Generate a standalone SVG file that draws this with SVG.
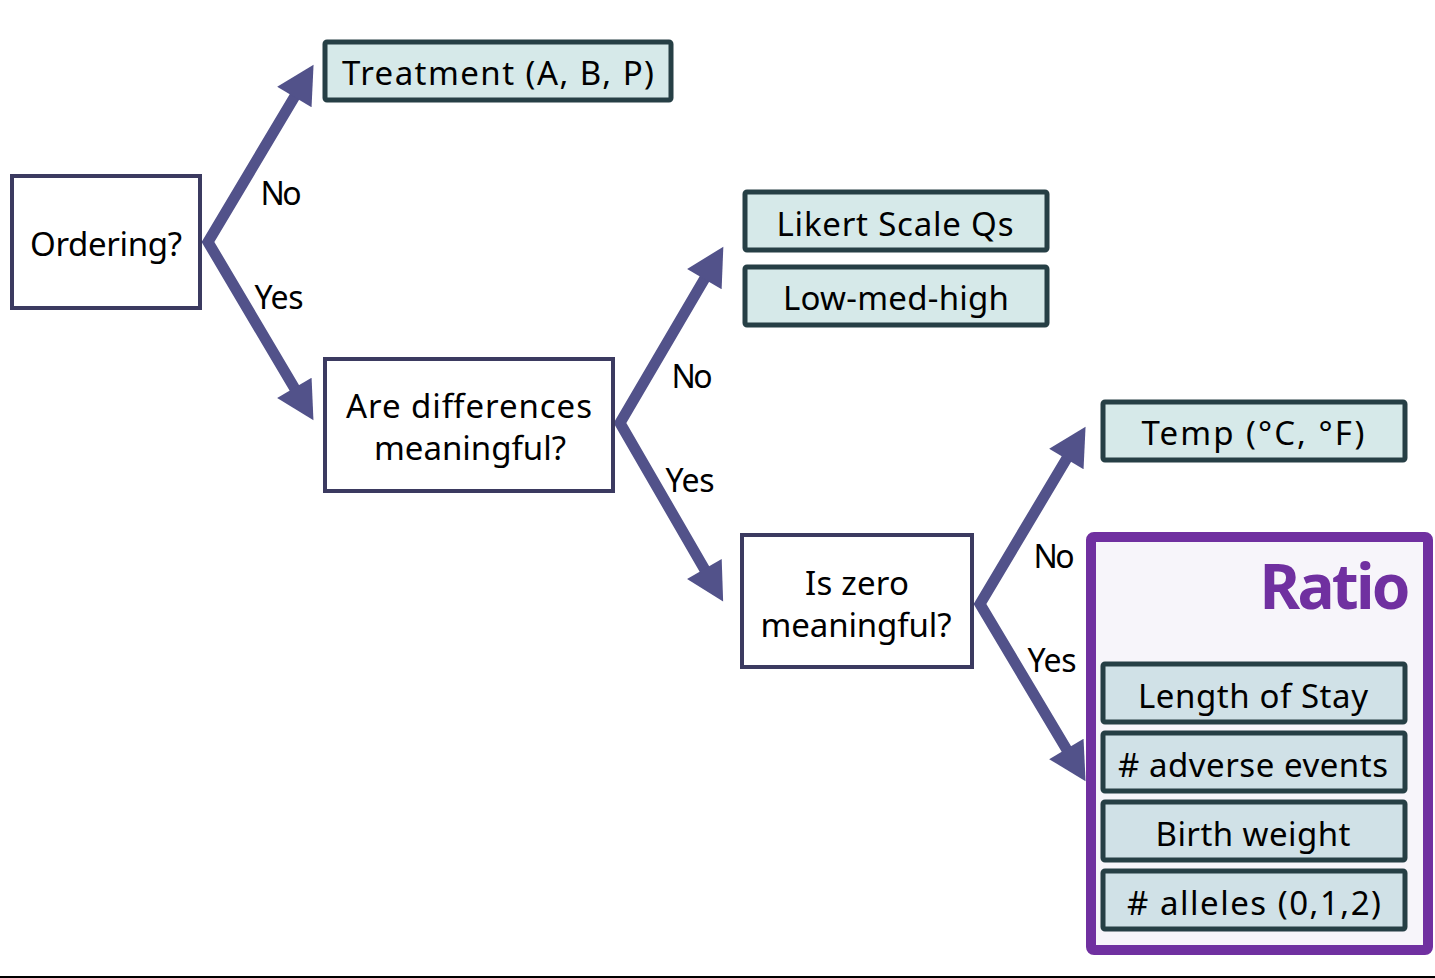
<svg xmlns="http://www.w3.org/2000/svg" width="1435" height="978" viewBox="0 0 1435 978">
<style>
text{font-family:"Noto Sans","Open Sans","DejaVu Sans",sans-serif;fill:#000;text-anchor:middle;dominant-baseline:central}
.q{fill:#fff;stroke:#3b3a60;stroke-width:4}
.t{fill:#d6e9e9;stroke:#263f45;stroke-width:5}
.r{fill:#d0e1e7;stroke:#263f45;stroke-width:5}
.lbl{font-size:32px}
.bx{font-size:33px}
.arr{fill:none;stroke:#52528a;stroke-width:11;stroke-miterlimit:10;marker-start:url(#ah);marker-end:url(#ah)}
</style>
<defs>
<marker id="ah" markerUnits="userSpaceOnUse" markerWidth="40" markerHeight="40" viewBox="0 0 30 32" refX="1" refY="16" orient="auto-start-reverse">
<path d="M0,0 L30,16 L0,32 z" fill="#52528a"/>
</marker>
</defs>
<rect width="1435" height="978" fill="#fff"/>
<line x1="0" y1="977" x2="1435" y2="977" stroke="#000" stroke-width="2"/>
<g id="connectors">
<polyline class="arr" points="295,96 208,242 295,389"/>
<polyline class="arr" points="705,278 620,423 705,570"/>
<polyline class="arr" points="1067,458 980,604 1067,750"/>
<text class="lbl" x="281" y="192" textLength="41">No</text>
<text class="lbl" x="279" y="296" textLength="49">Yes</text>
<text class="lbl" x="692" y="375" textLength="41">No</text>
<text class="lbl" x="690" y="479" textLength="49">Yes</text>
<text class="lbl" x="1054" y="555" textLength="41">No</text>
<text class="lbl" x="1052" y="659" textLength="49">Yes</text>
</g>
<g id="ordering"><rect class="q" x="12" y="176" width="188" height="132"/><text class="bx" x="106" y="243" textLength="152">Ordering?</text></g>
<g id="treatment"><rect class="t" x="325" y="42" width="346" height="58" rx="2"/><text class="bx" x="498" y="72" textLength="312">Treatment (A, B, P)</text></g>
<g id="differences"><rect class="q" x="325" y="359" width="288" height="132"/><text class="bx" x="469" y="405" textLength="246">Are differences</text><text class="bx" x="470" y="447" textLength="192">meaningful?</text></g>
<g id="likert"><rect class="t" x="745" y="192" width="302" height="58" rx="2"/><text class="bx" x="895" y="223" textLength="237">Likert Scale Qs</text></g>
<g id="lowmedhigh"><rect class="t" x="745" y="267" width="302" height="58" rx="2"/><text class="bx" x="896" y="297" textLength="226">Low-med-high</text></g>
<g id="zero"><rect class="q" x="742" y="535" width="230" height="132"/><text class="bx" x="857" y="582" textLength="104">Is zero</text><text class="bx" x="856" y="624" textLength="191">meaningful?</text></g>
<g id="temp"><rect class="t" x="1103" y="402" width="302" height="58" rx="2"/><text class="bx" x="1253" y="432" textLength="223">Temp (°C, °F)</text></g>
<g id="ratio">
<rect x="1091" y="537" width="337" height="413" rx="3" fill="#f7f5fa" stroke="#7030a0" stroke-width="10"/>
<text x="1335" y="585" textLength="151" style="font-size:62px;font-weight:bold;fill:#7030a0">Ratio</text>
<g id="los"><rect class="r" x="1103" y="664" width="302" height="58" rx="2"/><text class="bx" x="1253" y="695" textLength="230">Length of Stay</text></g>
<g id="adverse"><rect class="r" x="1103" y="733" width="302" height="58" rx="2"/><text class="bx" x="1253" y="764" textLength="270">#&#160;adverse events</text></g>
<g id="birth"><rect class="r" x="1103" y="802" width="302" height="58" rx="2"/><text class="bx" x="1253" y="833" textLength="195">Birth weight</text></g>
<g id="alleles"><rect class="r" x="1103" y="871" width="302" height="58" rx="2"/><text class="bx" x="1254" y="902" textLength="254">#&#160;alleles (0,1,2)</text></g>
</g>
</svg>
